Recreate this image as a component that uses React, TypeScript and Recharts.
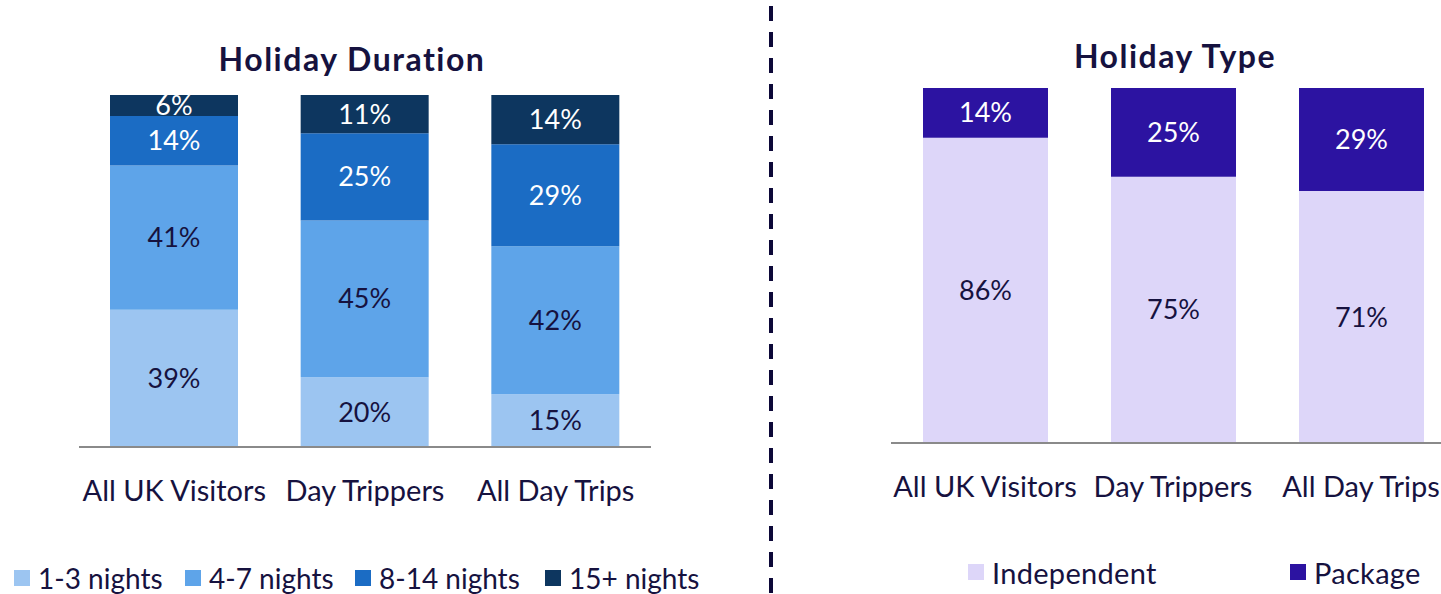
import React from "react"
import { Bar, BarChart, LabelList, XAxis, YAxis } from "recharts"

const categories = ["All UK Visitors", "Day Trippers", "All Day Trips"]

// Holiday Duration (percent)
const nights13 = [39, 20, 15]
const nights47 = [41, 45, 42]
const nights814 = [14, 25, 29]
const nights15 = [6, 11, 14]

// Holiday Type (percent)
const independent = [86, 75, 71]
const packageHol = [14, 25, 29]

const durationSeries = [
  { key: "n13", name: "1-3 nights", values: nights13, color: "#9CC5F1", text: "#16123f" },
  { key: "n47", name: "4-7 nights", values: nights47, color: "#5EA4E9", text: "#16123f" },
  { key: "n814", name: "8-14 nights", values: nights814, color: "#1B6CC4", text: "#ffffff" },
  { key: "n15", name: "15+ nights", values: nights15, color: "#0D365F", text: "#ffffff" },
]

const typeSeries = [
  { key: "ind", name: "Independent", values: independent, color: "#DDD6F9", text: "#16123f" },
  { key: "pkg", name: "Package", values: packageHol, color: "#2C13A1", text: "#ffffff" },
]

const FONT = "Lato, 'Open Sans', sans-serif"
const INK = "#16123f"

const buildRows = (series: typeof durationSeries) =>
  categories.map((label, i) => {
    const row: Record<string, string | number> = { label }
    series.forEach((s) => (row[s.key] = s.values[i]))
    return row
  })

function StackedPanel({
  series,
  width,
  height,
  margin,
  barSize,
}: {
  series: typeof durationSeries
  width: number
  height: number
  margin: { top: number; right: number; left: number; bottom: number }
  barSize: number
}) {
  return (
    <BarChart
      width={width}
      height={height}
      data={buildRows(series)}
      stackOffset="expand"
      margin={margin}
      barSize={barSize}
    >
      <XAxis
        dataKey="label"
        height={50}
        axisLine={{ stroke: "#8a8a8a", strokeWidth: 2 }}
        tickLine={false}
        tickMargin={27}
        tick={{ fill: INK, fontSize: 29, fontFamily: FONT }}
        interval={0}
      />
      <YAxis hide domain={[0, 1]} />
      {series.map((s) => (
        <Bar key={s.key} dataKey={s.key} stackId="a" fill={s.color} isAnimationActive={false}>
          <LabelList
            dataKey={s.key}
            position="center"
            fill={s.text}
            fontSize={27}
            fontFamily={FONT}
            formatter={(v: unknown) => `${v}%`}
          />
        </Bar>
      ))}
    </BarChart>
  )
}

function LegendItem({
  x,
  y,
  color,
  name,
  size = 29,
  spacing = 0.3,
}: {
  x: number
  y: number
  color: string
  name: string
  size?: number
  spacing?: number
}) {
  return (
    <div
      style={{
        position: "absolute",
        left: x,
        top: y - 17,
        height: 34,
        display: "flex",
        alignItems: "center",
        gap: 8,
        fontFamily: FONT,
        fontSize: size,
        letterSpacing: spacing,
        color: INK,
        whiteSpace: "nowrap",
      }}
    >
      <span style={{ width: 16, height: 16, background: color, display: "inline-block" }} />
      {name}
    </div>
  )
}

const titleStyle: React.CSSProperties = {
  position: "absolute",
  fontFamily: FONT,
  fontWeight: 700,
  fontSize: 32,
  letterSpacing: 1.5,
  color: INK,
  transform: "translateX(-50%)",
  whiteSpace: "nowrap",
  lineHeight: "36px",
}

export default function App() {
  return (
    <div
      style={{
        position: "absolute",
        left: 0,
        top: 0,
        width: 1441,
        height: 594,
        overflow: "hidden",
        background: "#fff",
      }}
    >
      <div style={{ ...titleStyle, left: 352, top: 41 }}>Holiday Duration</div>
      <div style={{ ...titleStyle, left: 1175, top: 38 }}>Holiday Type</div>

      <div style={{ position: "absolute", left: 0, top: 0 }}>
        <StackedPanel
          series={durationSeries}
          width={700}
          height={594}
          margin={{ top: 95, right: 49, left: 79, bottom: 97 }}
          barSize={128}
        />
      </div>

      <div style={{ position: "absolute", left: 800, top: 0 }}>
        <StackedPanel
          series={typeSeries}
          width={700}
          height={594}
          margin={{ top: 88, right: 45, left: 91, bottom: 101 }}
          barSize={125}
        />
      </div>

      <svg style={{ position: "absolute", left: 0, top: 0 }} width={1441} height={594}>
        <line x1={771} x2={771} y1={6} y2={594} stroke="#0c0838" strokeWidth={4} strokeDasharray="15 11" />
      </svg>

      <LegendItem x={14} y={578} size={28} spacing={0} color={durationSeries[0].color} name="1-3 nights" />
      <LegendItem x={185} y={578} size={28} spacing={0} color={durationSeries[1].color} name="4-7 nights" />
      <LegendItem x={355} y={578} size={28} spacing={0} color={durationSeries[2].color} name="8-14 nights" />
      <LegendItem x={545} y={578} size={28} spacing={0} color={durationSeries[3].color} name="15+ nights" />

      <LegendItem x={968} y={572} color={typeSeries[0].color} name="Independent" />
      <LegendItem x={1290} y={572} color={typeSeries[1].color} name="Package" />
    </div>
  )
}
